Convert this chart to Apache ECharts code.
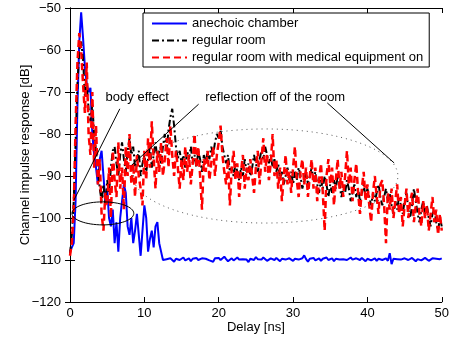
<!DOCTYPE html>
<html>
<head>
<meta charset="utf-8">
<script src="https://cdn.jsdelivr.net/npm/echarts@6/dist/echarts.min.js"></script>
<style>
  html, body { margin: 0; padding: 0; background: #fff; }
  #main { width: 452px; height: 344px; }
</style>
</head>
<body>
<div id="main"></div>
<script>
// sampling step of the impulse responses [ns]
const DELAY_STEP = 0.25;

// anechoic chamber [dB]
const anechoic = [
  -108, -107.6, -106, -96, -73, -58, -51, -57, -64, -68, -70, -69,
  -80, -85, -88, -92, -86, -84, -90, -96, -93, -100, -102, -98,
  -106, -101, -108, -100, -96, -92, -94, -102, -104, -100, -106, -103,
  -99, -104, -109, -103, -97, -100, -108, -105, -103, -107, -102, -101,
  -106, -108, -110, -110.3,
  -109.8, -110.2, -109.6, -109.9, -110.4, -109.7, -109.5, -110.0, -109.8, -109.4,
  -110.1, -109.9, -109.6, -110.3, -109.7, -109.8, -109.5, -110.0, -110.2, -109.6,
  -109.9, -109.7, -109.3, -110.1, -109.8, -110.4, -109.6, -109.9, -109.5, -110.0,
  -109.7, -109.2, -109.8, -110.3, -109.9, -109.6, -110.1, -109.7, -109.4, -109.9,
  -110.2, -109.8, -109.5, -109.9, -110.5, -109.7, -109.6, -110.0, -109.3, -109.8,
  -110.1, -109.9, -109.4, -109.7, -110.2, -109.8, -109.6, -109.9, -110.0, -109.5,
  -109.8, -110.3, -109.7, -109.4, -109.9, -110.1, -109.6, -109.8, -110.2, -109.7,
  -109.5, -109.9, -110.0, -109.6, -108.9, -109.8, -110.4, -109.7, -109.9, -109.5,
  -110.1, -109.8, -109.6, -110.2, -109.7, -109.9, -109.4, -110.0, -109.8, -109.6,
  -110.3, -109.7, -109.5, -109.9, -110.1, -109.8, -109.6, -110.0, -109.7, -109.4,
  -109.9, -110.2, -109.6, -109.8, -110.0, -109.5, -109.9, -110.3, -109.7, -109.6,
  -110.1, -109.8, -109.6, -110.2, -109.7, -109.5, -110.0, -109.8, -109.6, -110.2,
  -108.4, -111.0, -109.7, -110.1, -109.8, -109.4, -109.9, -110.2, -109.6, -109.8,
  -110.0, -109.7, -109.5, -109.9, -110.3, -109.8, -109.6, -110.1, -109.7, -109.5,
  -109.9, -110.2, -109.8, -109.6, -110.0, -109.7, -109.4, -109.8, -109.6
];

// regular room [dB]
const regularRoom = [
  -108.5, -104, -96, -82, -68, -60, -58, -62, -71, -68, -74, -77,
  -73, -80, -84, -88, -93, -96, -92, -97, -91, -94, -88, -84,
  -83, -87, -90, -85, -82, -86, -89, -84, -81, -85, -83, -88,
  -86, -84, -90, -87, -85, -89, -86, -83, -88, -85, -82, -86,
  -84, -87, -83, -80, -84, -79, -76, -74, -78, -83, -86, -84,
  -87, -85, -88, -84, -86, -83, -87, -85, -88, -84, -86, -89,
  -85, -87, -84, -86, -83, -85, -82, -80, -81, -79, -83, -85,
  -87, -85, -89, -88, -90, -87, -89, -91, -88, -90, -86, -89,
  -87, -90, -88, -85, -87, -89, -86, -84, -86, -83, -85, -87,
  -85, -88, -86, -89, -87, -91, -89, -92, -90, -88, -91, -89,
  -92, -89, -91, -88, -90, -93, -91, -89, -92, -90, -88, -91,
  -89, -92, -94, -91, -93, -90, -92, -95, -92, -94, -91, -93,
  -90, -92, -95, -93, -94, -91, -93, -96, -94, -92, -95, -93,
  -96, -94, -92, -95, -93, -95, -97, -94, -96, -94, -92, -95,
  -97, -95, -93, -96, -94, -97, -99, -96, -98, -95, -97, -99,
  -96, -94, -98, -100, -97, -93, -96, -99, -101, -98, -96, -99,
  -97, -100, -102, -99, -98, -101, -103, -100, -102
];

// regular room with medical equipment on [dB]
const medicalRoom = [
  -109, -106, -98, -78, -63, -56, -60, -68, -75, -63, -80, -85,
  -70, -88, -78, -92, -86, -99, -103, -94, -97, -88, -100, -84,
  -91, -95, -82, -93, -88, -98, -83, -90, -80, -92, -87, -95,
  -85, -90, -93, -97, -84, -91, -81, -88, -77, -86, -93, -84,
  -89, -82, -90, -86, -81, -88, -78, -85, -90, -84, -88, -93,
  -86, -91, -83, -89, -85, -92, -87, -80, -88, -83, -90, -98,
  -86, -89, -84, -91, -87, -83, -90, -85, -82, -78, -85, -89,
  -92, -86, -97, -88, -84, -91, -87, -95, -89, -85, -93, -88,
  -91, -86, -90, -94, -88, -84, -92, -86, -81, -89, -85, -91,
  -87, -80, -90, -86, -93, -88, -96, -90, -85, -92, -89, -94,
  -88, -83, -91, -95, -89, -86, -92, -88, -95, -90, -86, -93,
  -88, -96, -91, -87, -94, -103, -90, -86, -92, -88, -97, -91,
  -86, -93, -89, -95, -90, -84, -92, -88, -96, -91, -87, -94,
  -99, -93, -89, -96, -92, -97, -101, -94, -90, -95, -99, -92,
  -91, -97, -106, -94, -98, -93, -100, -96, -92, -99, -95, -102,
  -97, -93, -100, -96, -94, -101, -97, -93, -99, -102, -96, -100,
  -97, -103, -99, -95, -101, -98, -104, -99, -103
];

const seriesNames = ['anechoic chamber', 'regular room', 'regular room with medical equipment on'];
const xRange = [0, 50, 10];
const yRange = [-120, -50, 10];
const yTitle = 'Channel impulse response [dB]';

// annotations, in data units (delay ns, dB)
const bodyEllipse = { t: 4.42, v: -98.9, rt: 4.16, rv: 2.74 };
const roomEllipse = { t: 26.3, v: -90, rt: 17.8, rv: 11.2 };
const bodyText = { text: 'body effect', t: 9.05, v: -71.4 };
const roomText = { text: 'reflection off of the room', t: 27.6, v: -71.4 };
const pointerLines = [
  [[6.7, -74.0], [0.54, -95.7]],
  [[17.3, -72.9], [8.3, -87.4]],
  [[34.6, -72.6], [43.6, -86.9]]
];

const FONT = '"Liberation Sans", Arial, Helvetica, sans-serif';

function toPairs(vals) {
  return vals.map((v, i) => [i * DELAY_STEP, v]);
}
function minus(v) {
  return String(v).replace('-', '\u2212');
}

const chart = echarts.init(document.getElementById('main'));

const axisCommon = {
  axisLine: { show: true, lineStyle: { color: '#000', width: 1 } },
  axisTick: { show: true, inside: true, length: 5, lineStyle: { color: '#000' } },
  splitLine: { show: false }
};

chart.setOption({
  animation: false,
  backgroundColor: '#fff',
  textStyle: { fontFamily: FONT },
  grid: { left: 70, right: 9, top: 8, bottom: 42 },
  legend: {
    orient: 'vertical',
    left: 143,
    top: 13,
    data: seriesNames,
    backgroundColor: '#fff',
    borderColor: '#000',
    borderWidth: 1,
    borderRadius: 0,
    padding: [4, 6, 3, 8],
    itemWidth: 35,
    itemHeight: 14,
    itemGap: 4,
    itemStyle: { opacity: 0 },
    textStyle: { fontFamily: FONT, fontSize: 13, color: '#000' }
  },
  xAxis: [
    Object.assign({
      type: 'value', min: xRange[0], max: xRange[1], interval: xRange[2],
      name: 'Delay [ns]', nameLocation: 'middle', nameGap: 19, nameMoveOverlap: false,
      nameTextStyle: { fontFamily: FONT, fontSize: 13, color: '#000' },
      axisLabel: { color: '#000', fontSize: 13, fontFamily: FONT, margin: 5, formatter: minus }
    }, axisCommon),
    Object.assign({
      type: 'value', position: 'top', min: xRange[0], max: xRange[1], interval: xRange[2],
      axisLabel: { show: false }
    }, axisCommon)
  ],
  yAxis: [
    Object.assign({
      type: 'value', min: yRange[0], max: yRange[1], interval: yRange[2],
      axisLabel: { color: '#000', fontSize: 13, fontFamily: FONT, margin: 9, formatter: minus }
    }, axisCommon),
    Object.assign({
      type: 'value', position: 'right', min: yRange[0], max: yRange[1], interval: yRange[2],
      axisLabel: { show: false }
    }, axisCommon)
  ],
  series: [
    {
      name: seriesNames[0], type: 'line', symbol: 'none', data: toPairs(anechoic),
      lineStyle: { color: '#0000ff', width: 2 }, itemStyle: { color: '#0000ff' }
    },
    {
      name: seriesNames[1], type: 'line', symbol: 'none', data: toPairs(regularRoom),
      lineStyle: { color: '#000', width: 2, type: [7, 3, 2, 3] }, itemStyle: { color: '#000' }
    },
    {
      name: seriesNames[2], type: 'line', symbol: 'none', data: toPairs(medicalRoom),
      lineStyle: { color: '#ff0000', width: 2.5, type: [7, 4] }, itemStyle: { color: '#ff0000' }
    }
  ]
});

// annotations placed through the chart's own coordinate system
function px(t, v) { return chart.convertToPixel({ gridIndex: 0 }, [t, v]); }
function ellipseShape(e) {
  const c = px(e.t, e.v);
  const edge = px(e.t + e.rt, e.v + e.rv);
  return { cx: c[0], cy: c[1], rx: Math.abs(edge[0] - c[0]), ry: Math.abs(c[1] - edge[1]) };
}
const graphics = [];
graphics.push({
  type: 'ellipse', shape: ellipseShape(bodyEllipse), z: 10,
  style: { fill: null, stroke: '#000', lineWidth: 1 }
});
graphics.push({
  type: 'ellipse', shape: ellipseShape(roomEllipse), z: 10,
  style: { fill: null, stroke: '#555', lineWidth: 1, lineDash: [1, 4] }
});
pointerLines.forEach(function (l) {
  const a = px(l[0][0], l[0][1]);
  const b = px(l[1][0], l[1][1]);
  graphics.push({
    type: 'line', z: 10,
    shape: { x1: a[0], y1: a[1], x2: b[0], y2: b[1] },
    style: { stroke: '#000', lineWidth: 1 }
  });
});
[bodyText, roomText].forEach(function (tx) {
  const p = px(tx.t, tx.v);
  graphics.push({
    type: 'text', z: 11, x: p[0], y: p[1],
    style: { text: tx.text, fill: '#000', font: '13px ' + FONT, align: 'center', verticalAlign: 'middle' }
  });
});
// y axis title, centred on the value axis
const midY = px(0, (yRange[0] + yRange[1]) / 2)[1];
graphics.push({
  type: 'text', z: 11, x: 25.5, y: midY, rotation: Math.PI / 2,
  style: { text: yTitle, fill: '#000', font: '13px ' + FONT, align: 'center', verticalAlign: 'middle' }
});
chart.setOption({ graphic: graphics });
</script>
</body>
</html>
